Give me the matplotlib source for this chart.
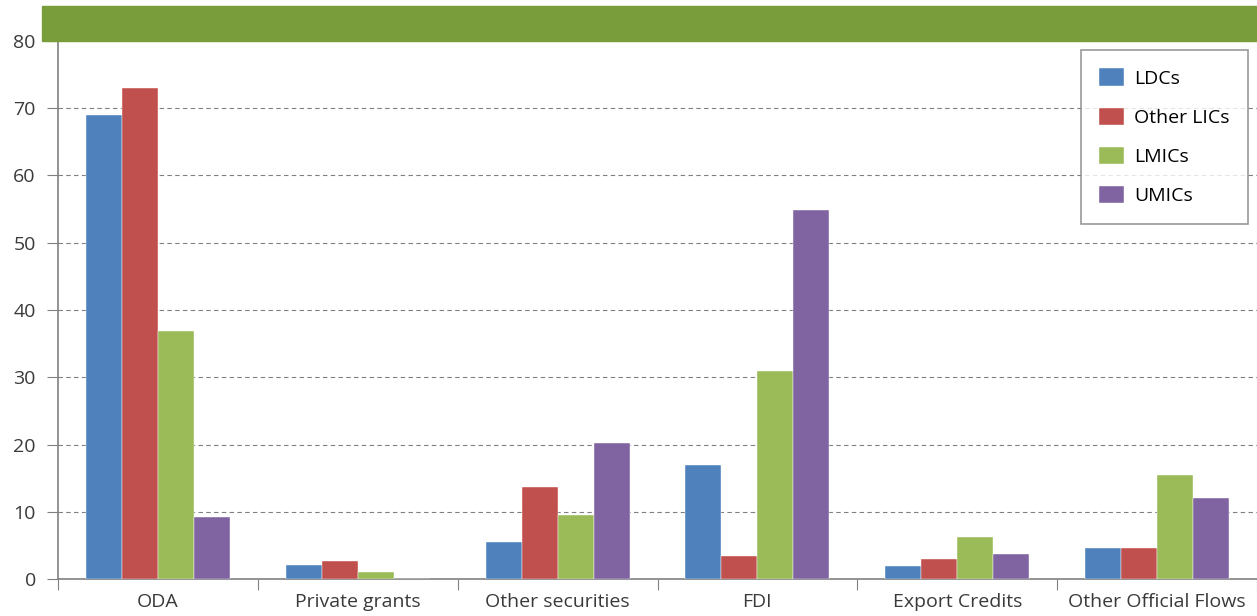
import numpy as np
import matplotlib.pyplot as plt
from matplotlib.patches import Rectangle

# Datos del grafico
categorias = ['ODA', 'Private grants', 'Other securities', 'FDI', 'Export Credits', 'Other Official Flows']
ldcs = [69.0, 2.1, 5.5, 17.0, 1.9, 4.6]
otros_lics = [73.0, 2.7, 13.7, 3.4, 3.0, 4.6]
lmics = [36.9, 1.1, 9.5, 30.9, 6.2, 15.5]
umics = [9.2, 0.0, 20.2, 54.9, 3.7, 12.0]
series = [('LDCs', ldcs, '#4F81BD'),
          ('Other LICs', otros_lics, '#C0504D'),
          ('LMICs', lmics, '#9BBB59'),
          ('UMICs', umics, '#8064A2')]

plt.rcParams['font.family'] = ['Open Sans', 'DejaVu Sans']

fig = plt.figure(figsize=(12.57, 6.16), dpi=100)
ax = fig.add_axes([58/1257, 1-579/616, 1-58/1257, (579-41)/616])

# Barras agrupadas
x = np.arange(len(categorias)) + 0.5
ancho = 0.18
for i, (nombre, vals, color) in enumerate(series):
    ax.bar(x + (i - 1.5)*ancho, vals, ancho, color=color, label=nombre,
           edgecolor='white', linewidth=0.3, zorder=3)

ax.set_xlim(0, len(categorias))
ax.set_ylim(0, 80)
ax.set_yticks(range(0, 81, 10))
ax.set_xticks(range(len(categorias)+1))
ax.set_xticklabels([])
ax.set_xticks(x, minor=True)
ax.set_xticklabels(categorias, minor=True)
ax.tick_params(axis='x', which='minor', length=0, pad=10, labelsize=14, labelcolor='#3a3a3a')
ax.tick_params(axis='x', which='major', length=8, color='#808080', direction='out')
ax.tick_params(axis='y', length=8, color='#808080', labelsize=14, labelcolor='#3a3a3a', pad=8)

for g in range(10, 80, 10):
    ax.axhline(g, color='#808080', linestyle=(0, (4, 3)), linewidth=0.8, zorder=1)

for lado in ['top', 'right']:
    ax.spines[lado].set_visible(False)
for lado in ['left', 'bottom']:
    ax.spines[lado].set_color('#808080')
    ax.spines[lado].set_linewidth(1.2)

# Franja verde de arriba
fig.patches.append(Rectangle((42/1257, 1-41/616), 1-42/1257, 35/616,
                             transform=fig.transFigure, color='#7A9D3C', zorder=0))

leg = ax.legend(loc='upper right', frameon=True, fancybox=False, fontsize=14,
                handlelength=1.3, handleheight=1.0, labelspacing=1.02,
                borderpad=0.95, handletextpad=0.5, borderaxespad=0)
leg.get_frame().set_edgecolor('#808080')
leg.get_frame().set_linewidth(1.2)
leg.set_bbox_to_anchor((1248/1257, 1-50/616), transform=fig.transFigure)

fig.savefig('out.png', dpi=100)
